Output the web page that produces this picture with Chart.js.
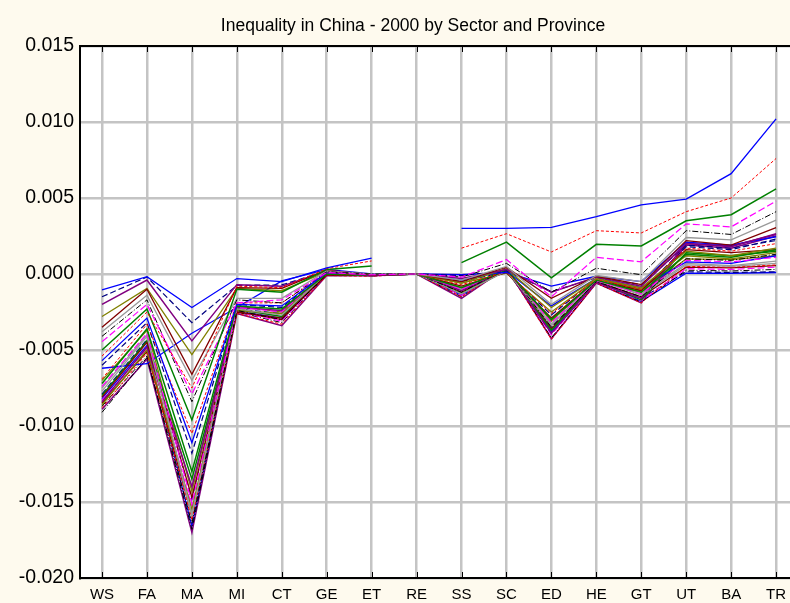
<!DOCTYPE html>
<html lang="en">
<head>
<meta charset="UTF-8">
<title>Inequality in China - 2000 by Sector and Province</title>
<script src="https://cdn.jsdelivr.net/npm/chart.js"></script>
<style>
    html, body { margin: 0; padding: 0; background: #fefaee; overflow: hidden; }
    #wrap { width: 790px; height: 603px; }
</style>
</head>
<body>
<div id="wrap"><canvas id="chart"></canvas></div>
<script>
const chartTitle = 'Inequality in China - 2000 by Sector and Province';
const sectors = ['WS', 'FA', 'MA', 'MI', 'CT', 'GE', 'ET', 'RE', 'SS', 'SC', 'ED', 'HE', 'GT', 'UT', 'BA', 'TR'];

// one row per province
const s01 = [-0.00105, -0.00018, -0.0022, -0.0003, -0.0005, 0.0004, 0.00105, null, 0.0030, 0.0030, 0.00307, 0.00377, 0.00455, 0.00493, 0.0066, 0.0102];
const s02 = [-0.0054, -0.0025, -0.0075, -0.0008, -0.0009, 0.00035, 0.00086, null, 0.0017, 0.00265, 0.00145, 0.00285, 0.0027, 0.0041, 0.0050, 0.0076];
const s03 = [-0.0050, -0.0023, -0.0096, -0.0010, -0.0012, 0.0003, 0.00053, null, 0.00075, 0.0021, -0.00025, 0.00195, 0.00185, 0.0035, 0.0039, 0.0056];
const s04 = [-0.00445, -0.0020, -0.0079, -0.0019, -0.0017, 0.0001, -0.00005, 0, -0.0002, 0.00095, -0.0015, 0.0011, 0.0008, 0.0033, 0.0031, 0.0048];
const s05 = [-0.0041, -0.0017, -0.0084, -0.0017, -0.0019, 0.00015, 0, 0, -0.0002, 0.0007, -0.0012, 0.00038, -0.00005, 0.00285, 0.0026, 0.0041];
const s06 = [-0.0038, -0.0014, -0.0070, -0.0016, -0.0016, 0.0002, 0, 0, -0.0004, 0.0005, -0.0020, -0.0001, -0.0005, 0.0024, 0.00225, 0.00355];
const s07 = [-0.0035, -0.0010, -0.0066, -0.0009, -0.00095, 0.00025, -0.00005, 0, -0.0005, 0.00045, -0.0016, -0.00015, -0.0007, 0.0022, 0.0019, 0.00305];
const s08 = [-0.0020, -0.0004, -0.0044, -0.0007, -0.0008, 0.0002, -0.0001, 0, -0.0003, 0.0003, -0.0012, -0.0002, -0.0008, 0.0020, 0.0018, 0.00265];
const s09 = [-0.0028, -0.00095, -0.0053, -0.00095, -0.0011, 0.00015, -0.00005, 0, -0.0006, 0.00035, -0.0022, -0.0003, -0.0009, 0.0015, 0.0012, 0.0017];
const s10 = [-0.0015, -0.0002, -0.0032, -0.00075, -0.00072, 0.0002, -0.00005, 0, -0.0001, 0.0002, -0.00116, -0.00025, -0.0007, 0.0019, 0.0017, 0.0022];
const s11 = [-0.0057, -0.0029, -0.0111, -0.0020, -0.0021, 0.0001, 0, 0, -0.00005, 0.0001, -0.0008, -0.00015, -0.0005, 0.0021, 0.0019, 0.00245];
const s12 = [-0.0069, -0.0033, -0.0105, -0.0019, -0.0019, 0.00005, -0.00005, 0, -0.0007, 0.00015, -0.0026, -0.00035, -0.0010, 0.0017, 0.0015, 0.0020];
const s13 = [-0.0072, -0.0036, -0.0130, -0.0021, -0.0023, 0, -0.0001, 0, -0.0009, 0.00025, -0.0030, -0.0004, -0.0012, 0.0013, 0.0011, 0.0016];
const s14 = [-0.0074, -0.0039, -0.0151, -0.0022, -0.0025, 0.0001, -0.00012, 0, -0.0010, 0.0003, -0.0032, -0.00045, -0.0013, 0.0009, 0.0008, 0.0011];
const s15 = [-0.0091, -0.0055, -0.0164, -0.0024, -0.0030, 0, -0.00005, 0, -0.0012, 0.00035, -0.0035, -0.0005, -0.0015, 0.0010, 0.0009, 0.0013];
const s16 = [-0.0077, -0.0041, -0.0158, -0.0023, -0.0027, 0.00005, -0.00008, 0, -0.0013, 0.0002, -0.0034, -0.0003, -0.0014, 0.0006, 0.0005, 0.0007];
const s17 = [-0.0081, -0.0045, -0.0147, -0.0025, -0.0029, -0.00005, -0.0001, 0, -0.0008, 0.0001, -0.0029, -0.0004, -0.0011, 0.0016, 0.0014, 0.0016];
const s18 = [-0.0084, -0.0048, -0.0140, -0.0022, -0.0024, 0.0001, -0.00005, 0, -0.0011, 0.00028, -0.0039, -0.00055, -0.0016, 0.0020, 0.00185, 0.0026];
const s19 = [-0.0086, -0.0050, -0.0155, -0.0024, -0.0026, 0, -0.0001, 0, -0.0006, 0.00005, -0.0025, -0.00035, -0.0010, 0.0012, 0.0010, 0.0014];
const s20 = [-0.0060, -0.0032, -0.0118, -0.0020, -0.0022, 0.00015, 0, 0, -0.0005, 0.00015, -0.0027, -0.0003, -0.0011, 0.0018, 0.0016, 0.0023];
const s21 = [-0.0062, -0.0059, -0.0039, -0.0022, -0.00045, 0.0003, 0, 0, -0.0004, 0.0002, -0.0021, -0.0003, -0.0009, 0.0008, 0.0007, 0.0012];
const s22 = [-0.0088, -0.0052, -0.0162, -0.0026, -0.0033, -0.0001, -0.00015, 0, -0.0015, 0.00035, -0.0043, -0.0006, -0.0019, 0.0005, 0.00045, 0.0006];
const s23 = [-0.0080, -0.0044, -0.0135, -0.0023, -0.0028, 0.00005, -0.00005, 0, -0.0013, 0.00022, -0.0037, -0.0005, -0.0017, 0.0014, 0.0012, 0.0015];
const s24 = [-0.0083, -0.0049, -0.0153, -0.0025, -0.0031, 0, -0.0001, 0, -0.0014, 0.00038, -0.0040, -0.00055, -0.00175, 0.00035, 0.0003, 0.00045];
const s25 = [-0.0087, -0.0054, -0.0168, -0.0025, -0.0032, -0.00005, -0.0001, 0, -0.0015, 0.0004, -0.0042, -0.0006, -0.00185, 0.00025, 0.0002, 0.0003];
const s26 = [-0.0075, -0.0040, -0.0160, -0.0024, -0.0028, 0.0001, -0.00005, 0, -0.0010, 0.0002, -0.0033, -0.00045, -0.0013, 0.0007, 0.00055, 0.00085];
const s27 = [-0.0085, -0.0051, -0.0159, -0.0025, -0.0030, 0, -0.00008, 0, -0.0012, 0.0003, -0.0036, -0.0005, -0.0015, 0.00045, 0.0004, 0.00055];
const s28 = [-0.0089, -0.0056, -0.0170, -0.0026, -0.0034, -0.0001, -0.00012, 0, -0.0016, 0.00042, -0.00425, -0.0006, -0.0019, 0.0019, 0.0017, 0.0025];
const s29 = [-0.0070, -0.0037, -0.0143, -0.0021, -0.0025, 0.00005, -0.00005, 0, -0.0009, 0.00018, -0.0031, -0.0004, -0.0012, 0.0010, 0.00095, 0.0012];
const s30 = [-0.0079, -0.0043, -0.0148, -0.0023, -0.0026, 0.00005, -0.00008, 0, -0.0011, 0.00025, -0.0035, -0.0005, -0.0016, 0.00015, 0.0001, 0.00015];
const s31 = [-0.0082, -0.0047, -0.0166, -0.0024, -0.0029, 0, -0.0001, 0, -0.0014, 0.0003, -0.0038, -0.0005, -0.0018, 0.00005, 0.00005, 0.0001];

const rows = [s01, s02, s03, s04, s05, s06, s07, s08, s09, s10, s11, s12, s13, s14, s15, s16,
              s17, s18, s19, s20, s21, s22, s23, s24, s25, s26, s27, s28, s29, s30, s31];

// line colours / dashes cycle like the original package
const styles = [
    { color: '#0000ff', dash: [],           width: 1.3 },
    { color: '#ff0000', dash: [3, 2],       width: 1 },
    { color: '#008000', dash: [],           width: 1.5 },
    { color: '#ff00ff', dash: [7, 3],       width: 1.2 },
    { color: '#000000', dash: [6, 2, 1, 2], width: 1 },
    { color: '#999999', dash: [],           width: 1.3 },
    { color: '#800000', dash: [],           width: 1.3 },
    { color: '#800080', dash: [],           width: 1.5 },
    { color: '#808000', dash: [],           width: 1.3 },
    { color: '#000080', dash: [6, 3],       width: 1.2 }
];

const datasets = rows.map((row, i) => {
    const st = styles[i % styles.length];
    return {
        label: 'P' + (i + 1),
        data: row.map((v, j) => ({ x: j + 1, y: v })),
        borderColor: st.color,
        borderDash: st.dash,
        borderWidth: st.width,
        pointRadius: 0,
        tension: 0,
        spanGaps: false,
        fill: false
    };
});

const frame = {
    id: 'frame',
    beforeDraw(chart) {
        const { ctx, chartArea: a } = chart;
        ctx.save();
        ctx.fillStyle = '#fefaee';
        ctx.fillRect(0, 0, chart.width, chart.height);
        ctx.fillStyle = '#ffffff';
        ctx.fillRect(a.left, a.top, a.right - a.left, a.bottom - a.top);
        ctx.restore();
    },
    afterDraw(chart) {
        const { ctx, chartArea: a } = chart;
        const x = chart.scales.x;
        ctx.save();
        // title sits a bit right of the canvas centre in the original
        ctx.fillStyle = '#000';
        ctx.font = '17.5px "Liberation Sans", Arial, sans-serif';
        ctx.textAlign = 'center';
        ctx.textBaseline = 'middle';
        ctx.fillText(chartTitle, 413, 26);

        ctx.strokeStyle = '#000';
        ctx.lineWidth = 2;
        ctx.beginPath();
        ctx.moveTo(a.left, a.top);
        ctx.lineTo(a.right, a.top);
        ctx.stroke();
        // small inward ticks on top and bottom edges
        ctx.lineWidth = 1;
        ctx.beginPath();
        sectors.forEach((s, i) => {
            const px = Math.round(x.getPixelForValue(i + 1)) + 0.5;
            ctx.moveTo(px, a.top);
            ctx.lineTo(px, a.top + 6);
            ctx.moveTo(px, a.bottom);
            ctx.lineTo(px, a.bottom - 6);
        });
        ctx.stroke();
        ctx.restore();
    }
};

new Chart(document.getElementById('chart'), {
    type: 'line',
    data: { datasets: datasets },
    options: {
        responsive: true,
        maintainAspectRatio: false,
        animation: false,
        layout: { padding: { left: 0, right: 0, top: 46, bottom: 0 } },
        plugins: {
            legend: { display: false },
            tooltip: { enabled: false },
            title: { display: false }
        },
        scales: {
            x: {
                type: 'linear',
                min: 0.51,
                max: 16.31,
                afterBuildTicks: (scale) => {
                    scale.ticks = sectors.map((s, i) => ({ value: i + 1 }));
                },
                afterFit: (scale) => {
                    scale.height = 25;
                    scale.paddingLeft = 0;
                    scale.paddingRight = 0;
                },
                ticks: {
                    autoSkip: false,
                    maxRotation: 0,
                    padding: 8,
                    color: '#000',
                    font: { family: 'Liberation Sans, Arial, sans-serif', size: 15 },
                    callback: (v) => sectors[v - 1]
                },
                grid: { color: '#c4c4c4', lineWidth: 2.5, drawTicks: false },
                border: { color: '#000', width: 2 }
            },
            y: {
                min: -0.02,
                max: 0.015,
                afterFit: (scale) => { scale.width = 80; },
                ticks: {
                    stepSize: 0.005,
                    padding: 6,
                    color: '#000',
                    font: { family: 'Liberation Sans, Arial, sans-serif', size: 19.5 },
                    callback: (v) => (Math.abs(v) < 1e-9 ? 0 : v).toFixed(3)
                },
                grid: { color: '#c4c4c4', lineWidth: 2.5, drawTicks: false },
                border: { color: '#000', width: 2 }
            }
        }
    },
    plugins: [frame]
});
</script>
</body>
</html>
